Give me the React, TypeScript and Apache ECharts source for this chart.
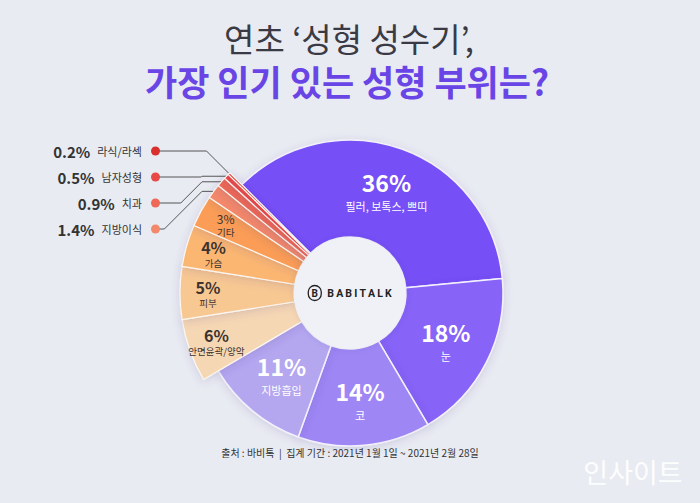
import React, { useEffect, useRef } from 'react';
import * as echarts from 'echarts';

const categories = ['필러, 보톡스, 쁘띠', '눈', '코', '지방흡입', '안면윤곽/양악', '피부', '가슴', '기타', '지방이식', '치과', '남자성형', '라식/라섹'];
const values = [36, 18, 14, 11, 6, 5, 4, 3, 1.4, 0.9, 0.5, 0.2];
const sliceColors = ['#7650f6', '#8763f7', '#9e86f4', '#b4a6ef', '#f6d7b4', '#f8c893', '#fbb672', '#fb9d57', '#f3886b', '#ee6855', '#e84846', '#d9302e'];

const titleLine1 = '연초 ‘성형 성수기’,';
const titleLine2 = '가장 인기 있는 성형 부위는?';
const sourceText = '출처 : 바비톡  |  집계 기간 : 2021년 1월 1일 ~ 2021년 2월 28일';
const watermark = '인사이트';
const brand = 'BABITALK';

const PURPLE_COUNT = 4;
const INSIDE_ORANGE_COUNT = 4;

const FONT = '"Noto Sans CJK KR", "Noto Sans", sans-serif';

export default function App() {
  const ref = useRef<HTMLDivElement>(null);

  useEffect(() => {
    document.body.style.margin = '0';
    const el = ref.current!;
    const chart = echarts.init(el, null, { renderer: 'svg' });

    const CX = 350, CY = 293, R0 = 56, RP = 153, RO = 170;
    const START = 135;
    const sum = (a: number[]) => a.reduce((s, v) => s + v, 0);
    const total = sum(values);
    const purpleTotal = sum(values.slice(0, PURPLE_COUNT));
    const restTotal = total - purpleTotal;

    const shadow = { shadowBlur: 8, shadowColor: 'rgba(70,60,140,0.18)', shadowOffsetY: 2 };

    const placeholder = (v: number) => ({
      value: v,
      name: '',
      itemStyle: { color: 'rgba(0,0,0,0)', borderWidth: 0, shadowBlur: 0, shadowColor: 'rgba(0,0,0,0)' },
      label: { show: false },
      labelLine: { show: false },
      emphasis: { disabled: true },
    });

    const fmt = (v: number) => `${v}%`;

    const purpleData = values.slice(0, PURPLE_COUNT).map((v, i) => ({
      value: v,
      name: categories[i],
      itemStyle: { color: sliceColors[i] },
      label: {
        show: true,
        position: 'inside',
        formatter: `{v|${fmt(v)}}\n{n|${categories[i]}}`,
        rich: {
          v: { fontSize: 23, fontWeight: 'bold', color: '#ffffff', fontFamily: FONT, lineHeight: 29, align: 'center' },
          n: { fontSize: 11, color: '#ffffff', fontFamily: FONT, lineHeight: 19, align: 'center' },
        },
      },
    }));

    const orangeData = values.slice(PURPLE_COUNT).map((v, j) => {
      const i = j + PURPLE_COUNT;
      if (j < INSIDE_ORANGE_COUNT) {
        const small = j === INSIDE_ORANGE_COUNT - 1;
        return {
          value: v,
          name: categories[i],
          itemStyle: { color: sliceColors[i] },
          label: {
            show: true,
            position: 'inside',
            formatter: `{v|${fmt(v)}}\n{n|${categories[i]}}`,
            rich: {
              v: { fontSize: small ? 12 : 16, fontWeight: small ? 'normal' : 'bold', color: '#3d3330', fontFamily: FONT, lineHeight: small ? 14 : 20, align: 'center' },
              n: { fontSize: 9.5, color: '#3d3330', fontFamily: FONT, lineHeight: small ? 12 : 13, align: 'center' },
            },
          },
          labelLine: { show: false },
        };
      }
      return {
        value: v,
        name: categories[i],
        itemStyle: { color: sliceColors[i] },
        label: {
          show: true,
          position: 'outside',
          formatter: `{v|${fmt(v)}}{n|${categories[i]}}{d| }`,
          rich: {
            v: { fontSize: 15, fontWeight: 'bold', color: '#333333', fontFamily: FONT },
            n: { fontSize: 11, color: '#333333', fontFamily: FONT, padding: [0, 9, 0, 7] },
            d: { width: 9, height: 9, borderRadius: 4.5, backgroundColor: sliceColors[i] },
          },
        },
        labelLine: { show: true, lineStyle: { color: '#555555', width: 1 } },
      };
    });

    const edgePoint = (globalIdx: number): number[] => {
      const before = sum(values.slice(0, globalIdx));
      const mid = START - ((before + values[globalIdx] / 2) / total) * 360;
      const a = (mid * Math.PI) / 180;
      return [CX + RO * Math.cos(a), CY - RO * Math.sin(a)];
    };

    const option = {
      animation: false,
      backgroundColor: '#e9ebf2',
      graphic: [
        {
          type: 'text', x: 349, y: 38,
          style: { text: titleLine1, fontSize: 33, fontWeight: 'normal', fill: '#3a3a44', fontFamily: FONT, align: 'center', verticalAlign: 'middle' },
        },
        {
          type: 'text', x: 347, y: 80,
          style: { text: titleLine2, fontSize: 35, fontWeight: 'bold', fill: '#6a45e6', fontFamily: FONT, align: 'center', verticalAlign: 'middle' },
        },
        {
          type: 'text', x: 350, y: 452,
          style: { text: sourceText, fontSize: 10, fill: '#333333', fontFamily: FONT, align: 'center', verticalAlign: 'middle' },
        },
        {
          type: 'text', x: 633, y: 471,
          style: { text: watermark, fontSize: 27, fill: 'rgba(255,255,255,0.92)', fontFamily: FONT, align: 'center', verticalAlign: 'middle' },
        },
      ],
      series: [
        {
          type: 'pie',
          center: [CX, CY],
          radius: [R0, RP],
          startAngle: START,
          clockwise: true,
          avoidLabelOverlap: false,
          itemStyle: { borderColor: '#f3f1fc', borderWidth: 1.5, ...shadow },
          emphasis: { disabled: true },
          labelLine: { show: false },
          data: [...purpleData, placeholder(restTotal)],
        },
        {
          type: 'pie',
          center: [CX, CY],
          radius: [R0, RO],
          startAngle: START,
          clockwise: true,
          avoidLabelOverlap: false,
          itemStyle: { borderColor: '#fbf6ef', borderWidth: 1.2, ...shadow },
          emphasis: { disabled: true },
          data: [placeholder(purpleTotal), ...orangeData],
          labelLayout: (params: any) => {
            const di = params.dataIndex;
            if (di < 1) return {};
            const j = di - 1;
            const gi = j + PURPLE_COUNT;
            if (j < INSIDE_ORANGE_COUNT) {
              const r = params.labelRect;
              const lx = r.x + r.width / 2;
              const ly = r.y + r.height / 2;
              const vx = lx - CX, vy = ly - CY;
              const d = Math.sqrt(vx * vx + vy * vy) || 1;
              const target = 142;
              return { dx: (vx / d) * (target - d), dy: (vy / d) * (target - d) };
            }
            const k = values.length - 1 - gi;
            const rowY = 151 + k * 26;
            const lp = params.labelLinePoints;
            const edge = lp && lp[0] ? [lp[0][0], lp[0][1]] : edgePoint(gi);
            const dotX = 155.5;
            let pts: number[][];
            if (rowY <= edge[1]) {
              const bx = edge[0] - (edge[1] - rowY);
              pts = [edge, [bx, rowY], [dotX, rowY]];
            } else {
              const bx = Math.min(edge[0], 202);
              const dy = rowY - edge[1];
              pts = [edge, [bx, edge[1]], [bx - dy, rowY], [dotX, rowY]];
            }
            return { x: 160, y: rowY, align: 'right', verticalAlign: 'middle', labelLinePoints: pts };
          },
        },
        {
          type: 'pie',
          center: [CX, CY],
          radius: [0, R0],
          silent: true,
          emphasis: { disabled: true },
          itemStyle: { color: '#f0f1f7', shadowBlur: 6, shadowColor: 'rgba(70,60,140,0.15)' },
          label: {
            show: true,
            position: 'center',
            formatter: `{b|B}{t|${brand.split('').join('\u2009')}}`,
            rich: {
              b: { fontSize: 10, fontWeight: 'bold', color: '#222222', fontFamily: 'Roboto', width: 13, height: 15, lineHeight: 15, align: 'center', borderColor: '#222222', borderWidth: 1.3, borderRadius: 7 },
              t: { fontSize: 10.5, fontWeight: 'bold', color: '#222222', fontFamily: 'Roboto', padding: [0, 0, 0, 6] },
            },
          },
          labelLine: { show: false },
          data: [{ value: 1, name: brand }],
        },
      ],
    };

    chart.setOption(option as any);
    return () => chart.dispose();
  }, []);

  return <div ref={ref} style={{ width: 700, height: 503 }} />;
}
